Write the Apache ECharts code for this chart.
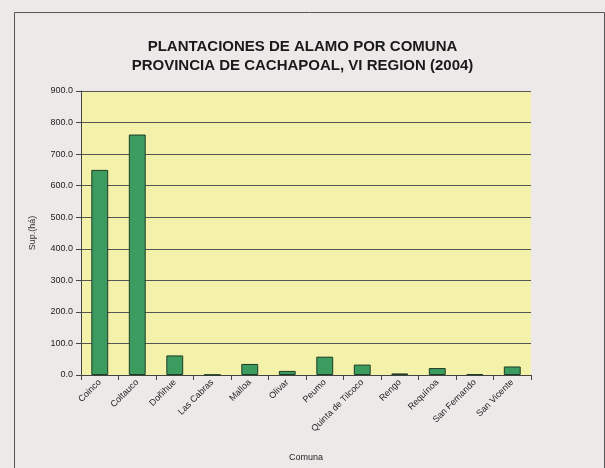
<!DOCTYPE html>
<html><head><meta charset="utf-8">
<script src="https://cdn.jsdelivr.net/npm/echarts@6/dist/echarts.min.js"></script>
<style>html,body{margin:0;padding:0;background:#ede9e9;}#c{width:605px;height:468px;}</style>
</head><body><div id="c"></div>
<script>
var categories = ['Coinco','Coltauco','Doñihue','Las Cabras','Malloa','Olivar','Peumo','Quinta de Tilcoco','Rengo','Requínoa','San Fernando','San Vicente'];
var values = [650, 762, 62, 1, 35, 13, 58, 33, 5, 22, 3, 27];
var titleLines = ['PLANTACIONES DE ALAMO POR COMUNA', 'PROVINCIA DE CACHAPOAL, VI REGION (2004)'];
var yName = 'Sup.(há)';
var xName = 'Comuna';

var chart = echarts.init(document.getElementById('c'), null, {renderer:'canvas'});
chart.setOption({
  backgroundColor: '#ede9e9',
  animation: false,
  graphic: [{
    type: 'rect', left: 12, top: 10, shape: {width: 590, height: 470},
    style: {fill: 'none', stroke: '#555', lineWidth: 1}, z: -1
  }],
  title: {
    text: titleLines.join('\n'),
    left: 'center', top: 32,
    textStyle: {fontFamily: 'Liberation Sans, Arial', fontSize: 15, fontWeight: 'bold', color: '#1a1a1a', lineHeight: 19}
  },
  grid: {left: 81, right: 74, top: 91, bottom: 93, show: true, backgroundColor: '#f3f1aa', borderWidth: 0},
  xAxis: {
    type: 'category', data: categories,
    name: xName, nameLocation: 'middle', nameGap: 78,
    nameTextStyle: {fontFamily: 'Liberation Sans, Arial', fontSize: 9, color: '#222'},
    axisLine: {lineStyle: {color: '#444'}},
    axisTick: {show: true, alignWithLabel: false, lineStyle: {color: '#444'}},
    axisLabel: {rotate: 45, fontFamily: 'Liberation Sans, Arial', fontSize: 9, color: '#222', margin: 6, interval: 0}
  },
  yAxis: {
    type: 'value', min: 0, max: 900, interval: 100,
    name: yName, nameLocation: 'middle', nameGap: 44,
    nameTextStyle: {fontFamily: 'Liberation Sans, Arial', fontSize: 9, color: '#333'},
    axisLine: {show: true, lineStyle: {color: '#444'}},
    axisTick: {show: true, lineStyle: {color: '#444'}},
    axisLabel: {fontFamily: 'Liberation Sans, Arial', fontSize: 9, color: '#222', formatter: function(v){return v.toFixed(1);}},
    splitLine: {show: true, lineStyle: {color: '#555', width: 1}}
  },
  series: [{
    type: 'bar', data: values, barWidth: '45%',
    itemStyle: {color: '#3c9b5f', borderColor: '#1d3d25', borderWidth: 1}
  }]
});
</script></body></html>
